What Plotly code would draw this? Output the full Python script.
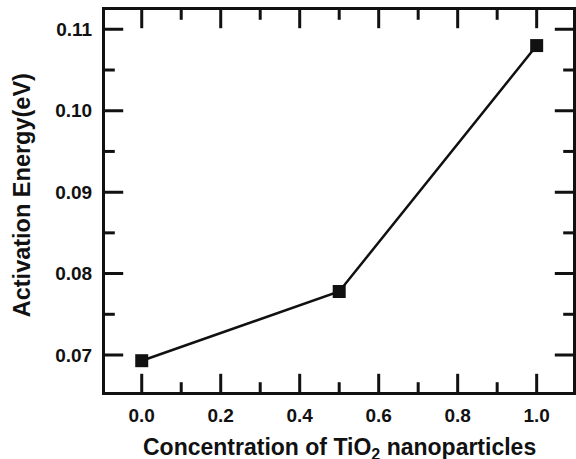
import plotly.graph_objects as go

concentration = [0.0, 0.5, 1.0]
activation_energy = [0.0693, 0.0778, 0.1080]

x_ticks = [0.0, 0.2, 0.4, 0.6, 0.8, 1.0]
x_tick_labels = ["0.0", "0.2", "0.4", "0.6", "0.8", "1.0"]
y_ticks = [0.07, 0.08, 0.09, 0.10, 0.11]
y_tick_labels = ["0.07", "0.08", "0.09", "0.10", "0.11"]

x_title = "Concentration of TiO<sub>2</sub> nanoparticles"
y_title = "Activation Energy(eV)"

FONT = "Liberation Sans, Arial, Helvetica, sans-serif"
INK = "#111111"
X_SPAN = [-0.093, 1.092]
Y_SPAN = [0.065456, 0.11237]
MAJOR_LEN, MINOR_LEN, TICK_W = 13, 7, 3

# minor ticks sit halfway between major ticks
x_minor = [(a + b) / 2 for a, b in zip(x_ticks[:-1], x_ticks[1:])]
y_minor = [(a + b) / 2 for a, b in zip(y_ticks[:-1], y_ticks[1:])]

fig = go.Figure()

# inward tick marks on all four frame sides, drawn as line markers centred on the
# frame edge and clipped to the plot area (so only the inner half shows)
def add_ticks(xs, ys, symbol, length):
    fig.add_trace(go.Scatter(
        x=xs, y=ys, mode="markers", cliponaxis=True,
        marker=dict(symbol=symbol, size=2 * length, color=INK,
                    line=dict(color=INK, width=TICK_W)),
        showlegend=False, hoverinfo="skip",
    ))

for edge in Y_SPAN:
    add_ticks(x_ticks, [edge] * len(x_ticks), "line-ns", MAJOR_LEN)
    add_ticks(x_minor, [edge] * len(x_minor), "line-ns", MINOR_LEN)
for edge in X_SPAN:
    add_ticks([edge] * len(y_ticks), y_ticks, "line-ew", MAJOR_LEN)
    add_ticks([edge] * len(y_minor), y_minor, "line-ew", MINOR_LEN)

fig.add_trace(go.Scatter(
    x=concentration, y=activation_energy,
    mode="lines+markers",
    line=dict(color=INK, width=2.5),
    marker=dict(symbol="square", size=13, color=INK),
    showlegend=False,
))

axis_style = dict(
    showline=True, linecolor=INK, linewidth=3, mirror=True,
    ticks="", showgrid=False, zeroline=False,
    tickfont=dict(family=FONT, size=19, color=INK, weight="bold"),
)

fig.update_layout(
    template="none",
    width=576, height=459,
    margin=dict(l=105, r=3, t=10, b=67, autoexpand=False),
    plot_bgcolor="white", paper_bgcolor="white",
    xaxis=dict(
        range=X_SPAN, tickmode="array", tickvals=x_ticks, ticktext=x_tick_labels,
        ticklabelstandoff=4, **axis_style,
    ),
    yaxis=dict(
        range=Y_SPAN, tickmode="array", tickvals=y_ticks, ticktext=y_tick_labels,
        ticklabelstandoff=6, **axis_style,
    ),
    annotations=[
        dict(
            text=y_title, textangle=-90, showarrow=False,
            xref="paper", yref="paper", x=0, y=0.515, xanchor="center", yanchor="middle",
            xshift=-83, font=dict(family=FONT, size=23.5, color=INK, weight="bold"),
        ),
        dict(
            text=x_title, showarrow=False,
            xref="paper", yref="paper", x=0.5, y=0, xanchor="center", yanchor="top",
            yshift=-40, font=dict(family=FONT, size=23, color=INK, weight="bold"),
        ),
    ],
)

fig.write_html("out.html")
